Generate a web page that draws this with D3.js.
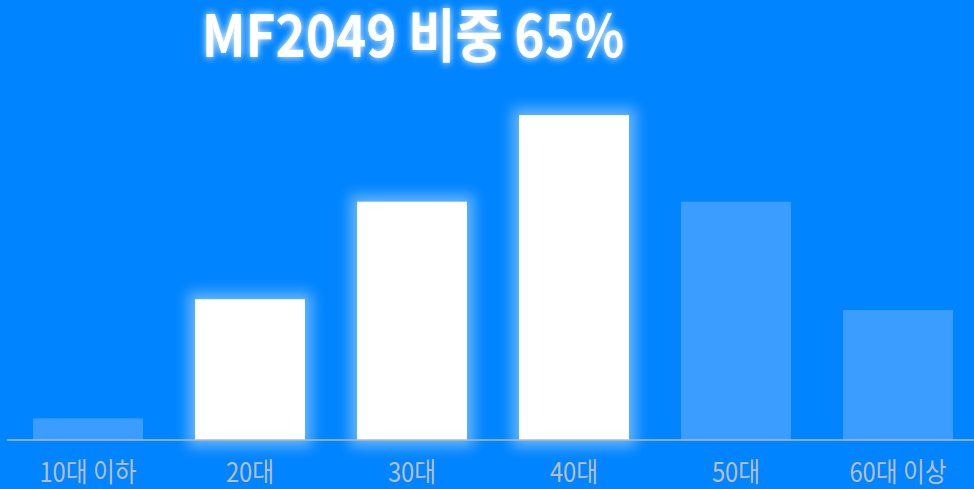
<!DOCTYPE html>
<html><head><meta charset="utf-8">
<script src="https://cdn.jsdelivr.net/npm/d3@7"></script>
<style>html,body{margin:0;padding:0;background:#0084FF;overflow:hidden}</style>
</head><body>
<svg id="c" width="974" height="489"></svg>
<script>
const categories = ["10대 이하","20대","30대","40대","50대","60대 이상"];
const values = [2, 13, 22, 30, 22, 12];
const highlighted = [false, true, true, true, false, false];
const title = "MF2049 비중 65%";

const W = 974, H = 489;
const svg = d3.select("#c");
svg.append("rect").attr("width", W).attr("height", H).attr("fill", "#0084FF");

const defs = svg.append("defs");
const f = defs.append("filter").attr("id","glow").attr("x","-50%").attr("y","-50%").attr("width","200%").attr("height","200%");
f.append("feGaussianBlur").attr("stdDeviation", 7);
const ft = defs.append("filter").attr("id","tglow").attr("x","-20%").attr("y","-50%").attr("width","140%").attr("height","200%");
ft.append("feGaussianBlur").attr("in","SourceGraphic").attr("stdDeviation",4).attr("result","b");
const m = ft.append("feMerge");
m.append("feMergeNode").attr("in","b");
m.append("feMergeNode").attr("in","SourceGraphic");

const x = d3.scaleBand().domain(categories).range([7, 979]).paddingInner(0.321).paddingOuter(0.1605);
const y = d3.scaleLinear().domain([0, 30]).range([440, 115]);

const data = categories.map((c,i)=>({c, v: values[i], h: highlighted[i]}));

svg.append("g").selectAll("rect").data(data.filter(d=>d.h)).join("rect")
  .attr("x", d=>x(d.c)-7).attr("y", d=>y(d.v)-7)
  .attr("width", x.bandwidth()+14).attr("height", d=>y(0)-y(d.v)+14)
  .attr("fill", "#ffffff").attr("opacity", 0.4).attr("filter","url(#glow)");

svg.append("g").selectAll("rect").data(data).join("rect")
  .attr("x", d=>x(d.c)).attr("y", d=>y(d.v))
  .attr("width", x.bandwidth()).attr("height", d=>y(0)-y(d.v))
  .attr("fill", d=>d.h ? "#ffffff" : "#3A9DFF");

const xAxis = d3.axisBottom(x).tickSize(0).tickPadding(0);
const ax = svg.append("g").attr("transform","translate(0,440)").call(xAxis);
ax.select(".domain").attr("stroke","#B4B8BE").attr("stroke-width",1.5).attr("d","M7,0H974");
ax.selectAll(".tick text").remove();
ax.selectAll(".tick").each(function(d){
  d3.select(this).append("text")
    .attr("transform","translate(0,42) scale(0.88,1)")
    .attr("text-anchor","middle")
    .attr("fill","#B9BEC6")
    .attr("font-family","'Noto Sans CJK KR'")
    .attr("font-weight",400)
    .attr("font-size",27)
    .text(d);
});

svg.append("text")
  .attr("transform","translate(413,57) scale(0.885,1)")
  .attr("text-anchor","middle")
  .attr("fill","#ffffff")
  .attr("font-family","'Noto Sans CJK KR'")
  .attr("font-weight",700)
  .attr("font-size",58)
  .attr("filter","url(#tglow)")
  .text(title);
</script>
</body></html>
